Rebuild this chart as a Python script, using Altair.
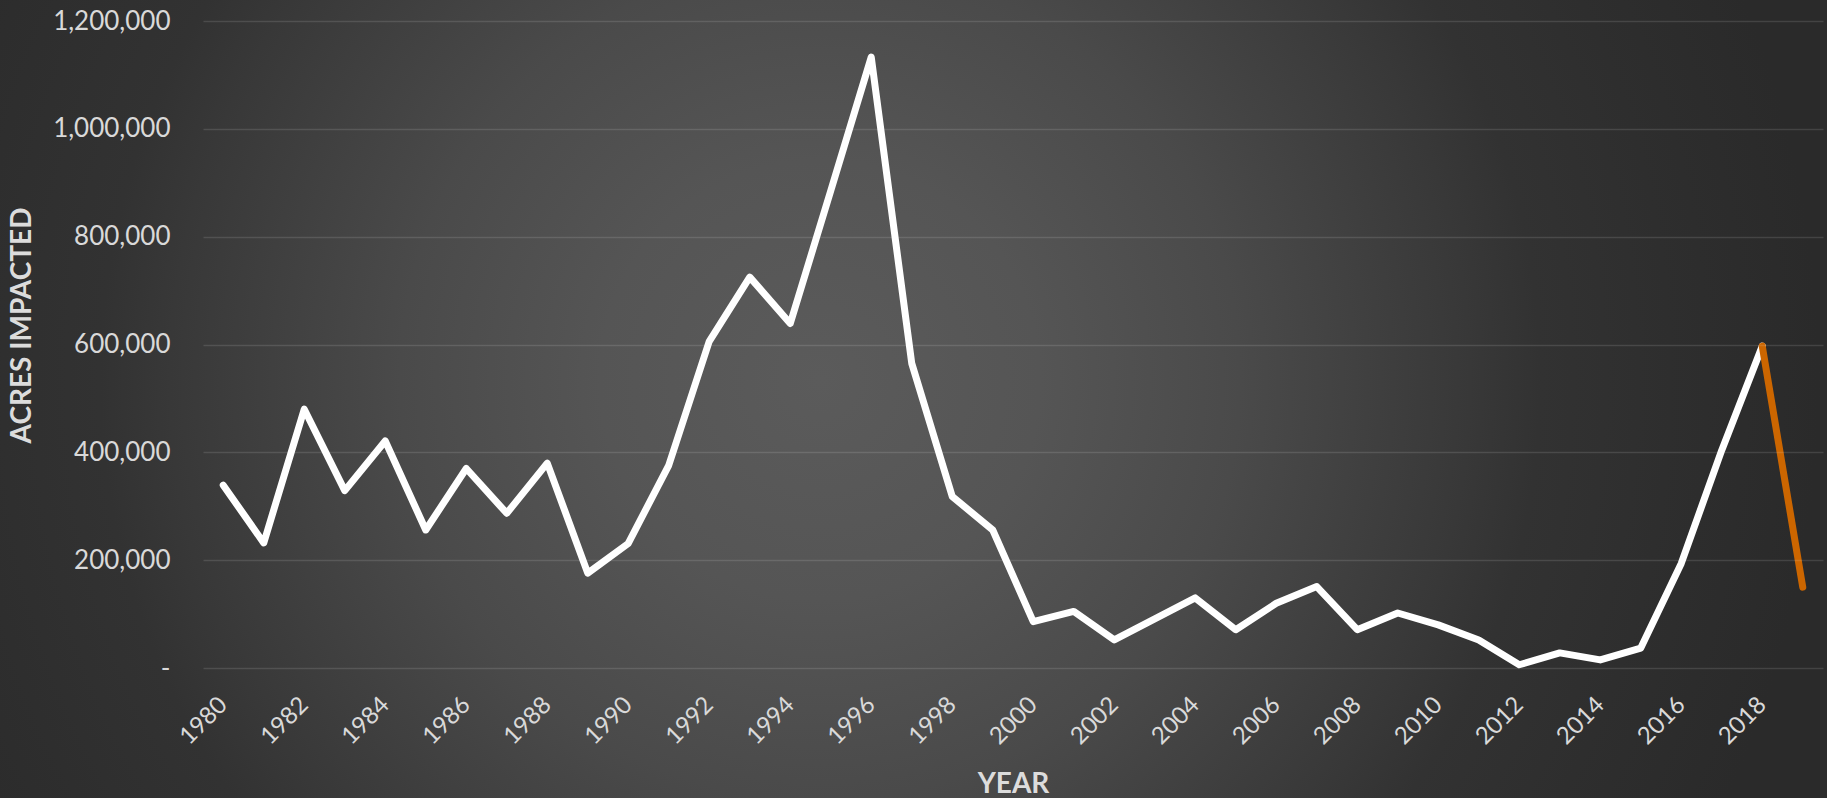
import altair as alt
import pandas as pd

years = list(range(1980, 2020))
acres = [
    339000, 232000, 480000, 329000, 421000, 256000, 370000, 287000, 380000, 176000,
    231000, 376000, 606000, 725000, 639000, 885000, 1133000, 565000, 318000, 256000,
    86000, 105000, 52000, 91000, 130000, 71000, 120000, 151000, 71000, 102000,
    80000, 52000, 6000, 28000, 15000, 37000, 194000, 404000, 597000, 150000,
]
y_ticks = [0, 200000, 400000, 600000, 800000, 1000000, 1200000]
x_label_years = list(range(1980, 2019, 2))

df = pd.DataFrame({"year": years, "acres": acres})
main = df[df["year"] <= 2018]
last = df[df["year"] >= 2018]

W, H = 1620, 647
PAD = {"left": 203, "top": 21, "right": 4, "bottom": 130}

# background radial gradient (square box so the gradient stays circular)
cx, cy, side = 820 - PAD["left"], 380 - PAD["top"], 2000
bg = alt.Chart(pd.DataFrame({"k": [0]})).mark_rect(
    fill={
        "gradient": "radial",
        "x1": 0.5, "y1": 0.5, "r1": 0,
        "x2": 0.5, "y2": 0.5, "r2": 0.5,
        "stops": [
            {"offset": 0.0, "color": "#5b5b5b"},
            {"offset": 0.22, "color": "#555555"},
            {"offset": 0.42, "color": "#4a4a4a"},
            {"offset": 0.65, "color": "#383838"},
            {"offset": 0.72, "color": "#323232"},
            {"offset": 0.85, "color": "#2e2e2e"},
            {"offset": 1.0, "color": "#2a2a2a"},
        ],
    }
).encode(
    x=alt.value(cx - side / 2), x2=alt.value(cx + side / 2),
    y=alt.value(cy - side / 2), y2=alt.value(cy + side / 2),
)

x_enc = alt.X(
    "year:O",
    title="YEAR",
    scale=alt.Scale(domain=years),
    axis=alt.Axis(
        values=x_label_years,
        labelAngle=315,
        labelAlign="right",
        labelBaseline="middle",
        labelPadding=33,
        labelFontSize=24,
        labelColor="#d9d9d9",
        labelFont="Lato",
        ticks=False,
        domain=False,
        grid=False,
        titleFont="Lato",
        titleFontSize=28,
        titleFontWeight="bold",
        titleColor="#dcdcdc",
        titleX=W / 2,
        titleY=124,
        titleBaseline="alphabetic",
        titleAlign="center",
        zindex=1,
    ),
)
y_enc = alt.Y(
    "acres:Q",
    title="ACRES IMPACTED",
    scale=alt.Scale(domain=[0, 1200000], nice=False),
    axis=alt.Axis(
        values=y_ticks,
        labelExpr="datum.value == 0 ? '-\u00a0\u00a0\u00a0' : format(datum.value, ',')",
        labelFont="Lato",
        labelFontSize=26,
        labelColor="#d9d9d9",
        labelPadding=33,
        labelBaseline="middle",
        ticks=False,
        domain=False,
        grid=True,
        gridColor="#ffffff",
        gridOpacity=0.12,
        gridWidth=1.5,
        titleFont="Lato",
        titleFontSize=28,
        titleFontWeight="bold",
        titleColor="#dcdcdc",
        titleAngle=270,
        titleX=22 - PAD["left"],
        titleY=325 - PAD["top"],
        titleBaseline="middle",
        titleAlign="center",
        zindex=1,
    ),
)

white = alt.Chart(main).mark_line(
    color="#ffffff", strokeWidth=7, strokeCap="round", strokeJoin="round"
).encode(x=x_enc, y=y_enc)

orange = alt.Chart(last).mark_line(
    color="#CC6600", strokeWidth=7, strokeCap="round", strokeJoin="round"
).encode(x=x_enc, y=y_enc)

chart = alt.layer(bg, white, orange).properties(
    width=W,
    height=H,
    padding=PAD,
    autosize=alt.AutoSizeParams(type="none"),
    background="#2d2d2d",
).configure_view(strokeWidth=0)

chart.save("out.html", embed_options={"renderer": "svg", "actions": False})
